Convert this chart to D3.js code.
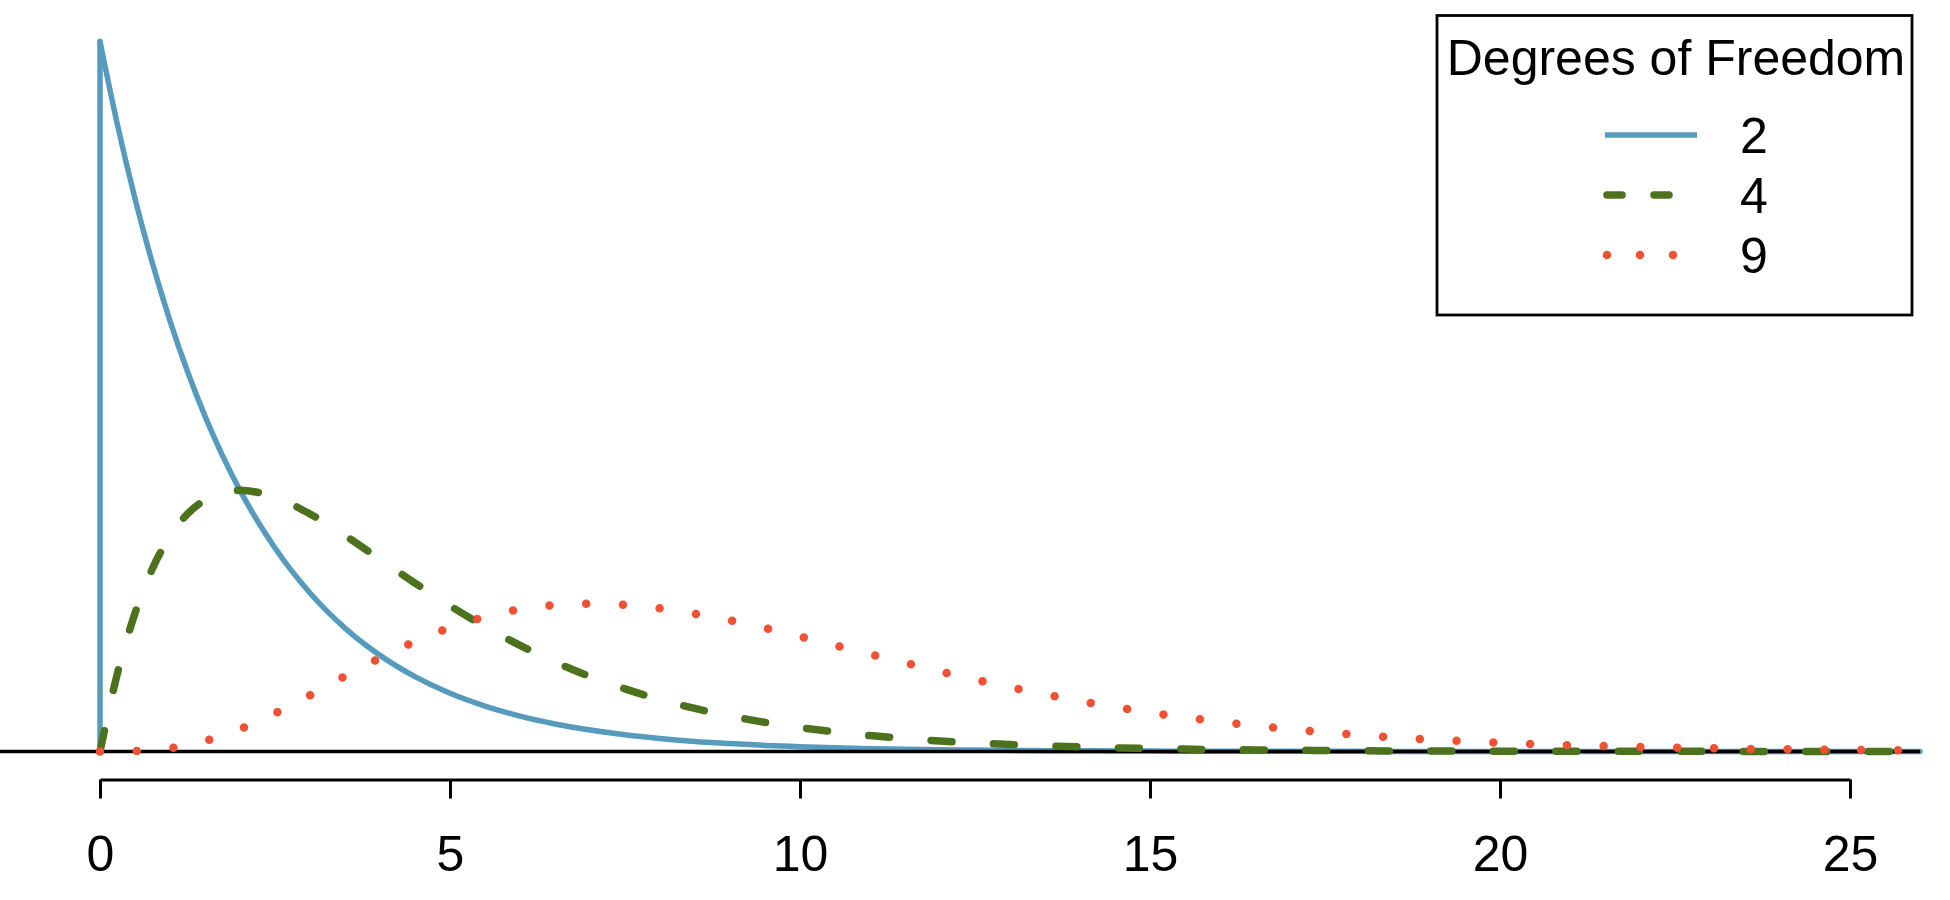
<!DOCTYPE html>
<html>
<head>
  <meta charset="UTF-8">
  <title>Chi-square densities</title>
  <script src="https://d3js.org/d3.v7.min.js"></script>
  <style>
    body { margin: 0; background: #fff; }
    text { font-family: "Liberation Sans", Arial, Helvetica, sans-serif; }
  </style>
</head>
<body>
<svg width="1950" height="900"></svg>
<script>
  const xValues = [0, 0.25, 0.5, 0.75, 1, 1.25, 1.5, 1.75,
    2, 2.5, 3, 3.5, 4, 4.5, 5, 5.5, 6, 6.5,
    7, 7.5, 8, 8.5, 9, 9.5, 10, 10.5, 11, 11.5,
    12, 12.5, 13, 13.5, 14, 14.5, 15, 15.5, 16, 16.5,
    17, 17.5, 18, 18.5, 19, 19.5, 20, 20.5, 21, 21.5,
    22, 22.5, 23, 23.5, 24, 24.5, 25, 25.5, 26];

  // density values for each degrees of freedom
  const df2Values = [0.5000, 0.4412, 0.3894, 0.3436, 0.3033, 0.2676, 0.2362, 0.2084,
    0.1839, 0.1433, 0.1116, 0.0869, 0.0677, 0.0527, 0.0410, 0.0320, 0.0249, 0.0194,
    0.0151, 0.0118, 0.0092, 0.0071, 0.0056, 0.0043, 0.0034, 0.0026, 0.0020, 0.0016,
    0.0012, 0.0010, 0.0008, 0.0006, 0.0005, 0.0004, 0.0003, 0.0002, 0.0002, 0.0001,
    0.0001, 0.0001, 0.0001, 0, 0, 0, 0, 0, 0, 0,
    0, 0, 0, 0, 0, 0, 0, 0, 0];

  const df4Values = [0, 0.0552, 0.0974, 0.1289, 0.1516, 0.1673, 0.1771, 0.1824,
    0.1839, 0.1790, 0.1673, 0.1521, 0.1353, 0.1186, 0.1026, 0.0879, 0.0747, 0.0630,
    0.0528, 0.0441, 0.0366, 0.0303, 0.0250, 0.0205, 0.0168, 0.0138, 0.0112, 0.0092,
    0.0074, 0.0060, 0.0049, 0.0040, 0.0032, 0.0026, 0.0021, 0.0017, 0.0013, 0.0011,
    0.0009, 0.0007, 0.0006, 0.0004, 0.0004, 0.0003, 0.0002, 0.0002, 0.0001, 0.0001,
    0.0001, 0.0001, 0.0001, 0, 0, 0, 0, 0, 0];

  const df9Values = [0, 0.0000, 0.0003, 0.0010, 0.0023, 0.0044, 0.0074, 0.0112,
    0.0158, 0.0269, 0.0396, 0.0530, 0.0658, 0.0774, 0.0872, 0.0948, 0.1001, 0.1031,
    0.1041, 0.1032, 0.1008, 0.0970, 0.0923, 0.0869, 0.0810, 0.0748, 0.0686, 0.0624,
    0.0564, 0.0507, 0.0453, 0.0402, 0.0356, 0.0313, 0.0275, 0.0240, 0.0209, 0.0181,
    0.0157, 0.0135, 0.0116, 0.0099, 0.0085, 0.0073, 0.0062, 0.0052, 0.0044, 0.0038,
    0.0032, 0.0027, 0.0023, 0.0019, 0.0016, 0.0013, 0.0011, 0.0009, 0.0008];

  const xTicks = [0, 5, 10, 15, 20, 25];
  const legendTitle = 'Degrees of Freedom';
  const legendLabels = ['2', '4', '9'];

  const svg = d3.select('svg');

  // scales
  const xScale = d3.scaleLinear().domain([0, 25]).range([100, 1850]);
  const yScale = d3.scaleLinear().domain([0, 0.5]).range([751.5, 41.5]);
  const xMin = xScale.invert(0), xMax = xScale.invert(1920);

  const line = d3.line()
    .x(d => xScale(d.x))
    .y(d => yScale(d.y))
    .curve(d3.curveMonotoneX);

  const toPoints = vals => xValues.map((x, i) => ({ x: x, y: vals[i] }));

  // df = 2 (solid blue), including the jump at zero
  svg.append('path')
    .datum([{ x: xValues[0], y: 0 }, { x: xValues[0], y: df2Values[0] }])
    .attr('d', d3.line().x(d => xScale(d.x)).y(d => yScale(d.y)))
    .attr('fill', 'none')
    .attr('stroke', '#569BBD')
    .attr('stroke-width', 5.5)
    .attr('stroke-linecap', 'round');

  svg.append('path')
    .datum(toPoints(df2Values))
    .attr('d', line)
    .attr('fill', 'none')
    .attr('stroke', '#569BBD')
    .attr('stroke-width', 5.5)
    .attr('stroke-linecap', 'round')
    .attr('stroke-linejoin', 'round');

  // horizontal zero line
  svg.append('line')
    .attr('x1', xScale(xMin)).attr('x2', xScale(xMax))
    .attr('y1', yScale(0)).attr('y2', yScale(0))
    .attr('stroke', '#000')
    .attr('stroke-width', 3.3);

  // df = 4 (dashed green)
  svg.append('path')
    .datum(toPoints(df4Values))
    .attr('d', line)
    .attr('fill', 'none')
    .attr('stroke', '#4C721D')
    .attr('stroke-width', 7.5)
    .attr('stroke-linecap', 'round')
    .attr('stroke-dasharray', '21,41.5');

  // df = 9 (dotted red)
  svg.append('path')
    .datum(toPoints(df9Values))
    .attr('d', line)
    .attr('fill', 'none')
    .attr('stroke', '#F05133')
    .attr('stroke-width', 8.5)
    .attr('stroke-linecap', 'round')
    .attr('stroke-dasharray', '0,36.8');

  // x axis
  const xAxis = svg.append('g')
    .attr('transform', 'translate(0,779.5)')
    .call(d3.axisBottom(xScale).tickValues(xTicks).tickSize(19).tickSizeOuter(0).tickPadding(37));
  xAxis.select('.domain').attr('stroke-width', 3);
  xAxis.selectAll('.tick line').attr('stroke-width', 3);
  xAxis.selectAll('.tick text')
    .attr('font-size', '50px')
    .attr('font-family', '"Liberation Sans", Arial, sans-serif')
    .attr('fill', '#000');

  // legend
  const legend = svg.append('g');
  legend.append('rect')
    .attr('x', 1437).attr('y', 15.5)
    .attr('width', 475).attr('height', 299.5)
    .attr('fill', '#fff')
    .attr('stroke', '#000')
    .attr('stroke-width', 2.8);

  legend.append('text')
    .attr('x', 1676).attr('y', 75)
    .attr('text-anchor', 'middle')
    .attr('font-size', '50px')
    .text(legendTitle);

  const legendStyles = [
    { color: '#569BBD', width: 5.5, dash: null },
    { color: '#4C721D', width: 7.5, dash: '15,32' },
    { color: '#F05133', width: 8.5, dash: '0,33' }
  ];

  legendLabels.forEach((lab, i) => {
    const y = 135 + i * 60;
    const s = legendStyles[i];
    legend.append('line')
      .attr('x1', i === 0 ? 1605 : 1607).attr('x2', 1697)
      .attr('y1', y).attr('y2', y)
      .attr('stroke', s.color)
      .attr('stroke-width', s.width)
      .attr('stroke-linecap', i === 0 ? 'butt' : 'round')
      .attr('stroke-dasharray', s.dash);
    legend.append('text')
      .attr('x', 1740).attr('y', y + 18)
      .attr('font-size', '50px')
      .text(lab);
  });
</script>
</body>
</html>
